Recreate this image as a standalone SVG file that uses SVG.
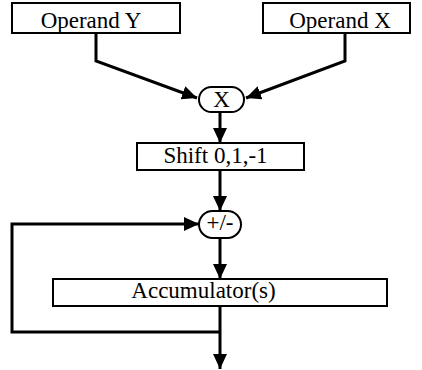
<svg xmlns="http://www.w3.org/2000/svg" width="422" height="370" viewBox="0 0 422 370">
<style>
.box{fill:#fff;stroke:#000;stroke-width:2}
.t{font-family:"Liberation Serif","Times New Roman",serif;font-size:23px;fill:#000;text-anchor:middle}
.c{fill:none;stroke:#000;stroke-width:3}
</style>
<defs>
<marker id="ah" markerUnits="userSpaceOnUse" markerWidth="16" markerHeight="14" viewBox="0 0 16 14" refX="15" refY="7" orient="auto">
<path d="M0,0 L15,7 L0,14 Z" fill="#000"/>
</marker>
</defs>
<rect width="422" height="370" fill="#fff"/>
<g id="connectors">
<polyline class="c" points="96,34 96,61 197,98" marker-end="url(#ah)"/>
<polyline class="c" points="345,34 345,61 246,98" marker-end="url(#ah)"/>
<line class="c" x1="220" y1="112" x2="220" y2="143" marker-end="url(#ah)"/>
<line class="c" x1="220" y1="170" x2="220" y2="211" marker-end="url(#ah)"/>
<line class="c" x1="220" y1="238" x2="220" y2="279" marker-end="url(#ah)"/>
<polyline class="c" points="220,332 12,332 12,224 199,224" marker-end="url(#ah)"/>
<line class="c" x1="220" y1="306" x2="220" y2="369" marker-end="url(#ah)"/>
</g>
<g id="operandY">
<rect class="box" x="12" y="3" width="168" height="30"/>
<text class="t" x="91" y="28">Operand Y</text>
</g>
<g id="operandX">
<rect class="box" x="263" y="3" width="147" height="30"/>
<text class="t" x="340" y="28">Operand X</text>
</g>
<g id="mult">
<rect class="box" x="199" y="87" width="45" height="25" rx="12.5"/>
<text class="t" x="221.5" y="107">X</text>
</g>
<g id="shift">
<rect class="box" x="137" y="143" width="167" height="27"/>
<text class="t" x="215.5" y="163">Shift 0,1,-1</text>
</g>
<g id="addsub">
<rect class="box" x="199" y="211" width="42" height="27" rx="13.5"/>
<text class="t" x="220" y="230">+/-</text>
</g>
<g id="accumulator">
<rect class="box" x="53" y="279" width="334" height="27"/>
<text class="t" x="203.5" y="298">Accumulator(s)</text>
</g>
</svg>
